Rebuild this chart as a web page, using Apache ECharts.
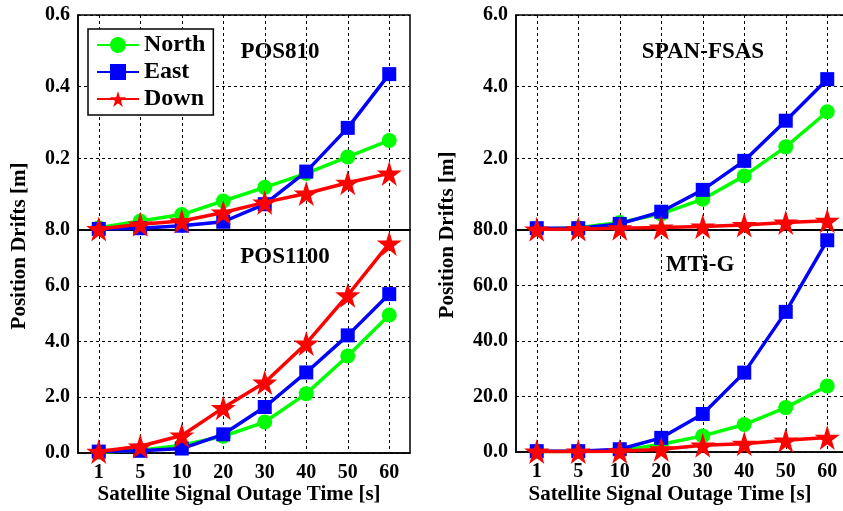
<!DOCTYPE html>
<html>
<head>
<meta charset="utf-8">
<script src="https://cdn.jsdelivr.net/npm/echarts@6/dist/echarts.min.js"></script>
<style>
html,body{margin:0;padding:0;background:#fff;}
#c{width:843px;height:511px;}
</style>
</head>
<body>
<div id="c"></div>
<script>
const categories = ['1','5','10','20','30','40','50','60'];
const seriesNames = ['North','East','Down'];

const pos810North = [0.006,0.025,0.043,0.081,0.119,0.158,0.204,0.250];
const pos810East  = [0.003,0.005,0.012,0.023,0.072,0.163,0.285,0.435];
const pos810Down  = [0.003,0.016,0.025,0.049,0.077,0.102,0.132,0.158];

const pos1100North = [0.03,0.10,0.28,0.60,1.11,2.13,3.48,4.95];
const pos1100East  = [0.05,0.08,0.16,0.67,1.65,2.89,4.22,5.70];
const pos1100Down  = [0.05,0.24,0.63,1.62,2.53,3.93,5.66,7.52];

const spanNorth = [0.02,0.06,0.21,0.45,0.86,1.51,2.32,3.30];
const spanEast  = [0.05,0.05,0.17,0.51,1.12,1.93,3.05,4.21];
const spanDown  = [0.02,0.03,0.05,0.07,0.10,0.14,0.21,0.26];

const mtiNorth = [0.2,0.2,0.5,2.8,5.8,9.9,16.0,23.8];
const mtiEast  = [0.3,0.3,1.0,5.1,13.7,28.6,50.5,76.3];
const mtiDown  = [0.2,0.2,0.3,1.0,2.4,3.0,4.2,5.2];

const panelTitles = ['POS810','POS1100','SPAN-FSAS','MTi-G'];
const yMax = [0.6, 8, 6, 80];
const yInterval = [0.2, 2, 2, 20];
const xTitle = 'Satellite Signal Outage Time [s]';
const yTitle = 'Position Drifts [m]';

const FONT = '"Liberation Serif", "Times New Roman", serif';
const star = 'path://M50,0 L61,35 L98,35 L68,57 L79,91 L50,70 L21,91 L32,57 L2,35 L39,35 Z';

const grids = [
  {left:78, top:15, width:332, height:215},
  {left:78, top:230, width:332, height:223},
  {left:516, top:15, width:332, height:215},
  {left:516, top:230, width:332, height:222}
];

const dashed = {show:true, lineStyle:{color:'#000', type:[3,3], width:1}};

const xAxes = grids.map((g,i)=>({
  type:'category', gridIndex:i, data:categories, boundaryGap:true,
  axisLine:{show:true, lineStyle:{color:'#000', width:1.5}},
  axisTick:{show:false},
  axisLabel:{show: i===1 || i===3, color:'#000', fontFamily:FONT, fontWeight:'bold', fontSize:20, margin:10},
  splitLine:Object.assign({alignWithLabel:true}, dashed)
}));

const yAxes = grids.map((g,i)=>({
  type:'value', gridIndex:i, min:0, max:yMax[i], interval:yInterval[i],
  axisLine:{show:true, lineStyle:{color:'#000', width:1.5}},
  axisTick:{show:false},
  axisLabel:{color:'#000', fontFamily:FONT, fontWeight:'bold', fontSize:20, margin:8,
    formatter:v=>((i===0||i===2) && v===0) ? '' : v.toFixed(1)},
  splitLine:dashed
}));

const colors = ['#00ff00','#0000ff','#ff0000'];
const symbols = ['circle','rect',star];
const symSizes = [15,14,25];
const dataSets = [
  [pos810North,pos810East,pos810Down],
  [pos1100North,pos1100East,pos1100Down],
  [spanNorth,spanEast,spanDown],
  [mtiNorth,mtiEast,mtiDown]
];

const series = [];
dataSets.forEach((ds,gi)=>{
  ds.forEach((d,si)=>{
    series.push({
      type:'line', name:seriesNames[si], xAxisIndex:gi, yAxisIndex:gi,
      data:d, symbol:symbols[si], symbolSize:symSizes[si],
      lineStyle:{color:colors[si], width:3.5},
      itemStyle:{color:colors[si]},
      showAllSymbol:true, animation:false, z:2+si
    });
  });
});

const titlePos = [[280,52],[285,257],[703,52],[700,265]];
const graphics = panelTitles.map((t,i)=>({
  type:'text', x:titlePos[i][0], y:titlePos[i][1], z:100,
  style:{text:t, fill:'#000', font:'bold 23px '+FONT, textAlign:'center', textVerticalAlign:'middle'}
}));
graphics.push(
  {type:'text', x:239, y:495, style:{text:xTitle, fill:'#000', font:'bold 21px '+FONT, textAlign:'center', textVerticalAlign:'middle'}},
  {type:'text', x:670, y:495, style:{text:xTitle, fill:'#000', font:'bold 21px '+FONT, textAlign:'center', textVerticalAlign:'middle'}},
  {type:'text', x:20, y:246, rotation:Math.PI/2, style:{text:yTitle, fill:'#000', font:'bold 21px '+FONT, textAlign:'center', textVerticalAlign:'middle'}},
  {type:'text', x:448, y:235, rotation:Math.PI/2, style:{text:yTitle, fill:'#000', font:'bold 21px '+FONT, textAlign:'center', textVerticalAlign:'middle'}}
);

const chart = echarts.init(document.getElementById('c'), null, {renderer:'canvas'});
chart.setOption({
  backgroundColor:'#fff',
  animation:false,
  grid:grids.map(g=>Object.assign({show:true, borderColor:'#000', borderWidth:1.5, backgroundColor:'transparent', outerBoundsMode:'none', containLabel:false}, g)),
  xAxis:xAxes,
  yAxis:yAxes,
  legend:{
    data:seriesNames, orient:'vertical', left:88, top:29,
    backgroundColor:'#fff', borderColor:'#000', borderWidth:1.5,
    padding:[4,8,4,8], itemWidth:42, itemHeight:20, itemGap:3,
    textStyle:{color:'#000', fontFamily:FONT, fontWeight:'bold', fontSize:24}
  },
  graphic:graphics,
  series:series
});
</script>
</body>
</html>
